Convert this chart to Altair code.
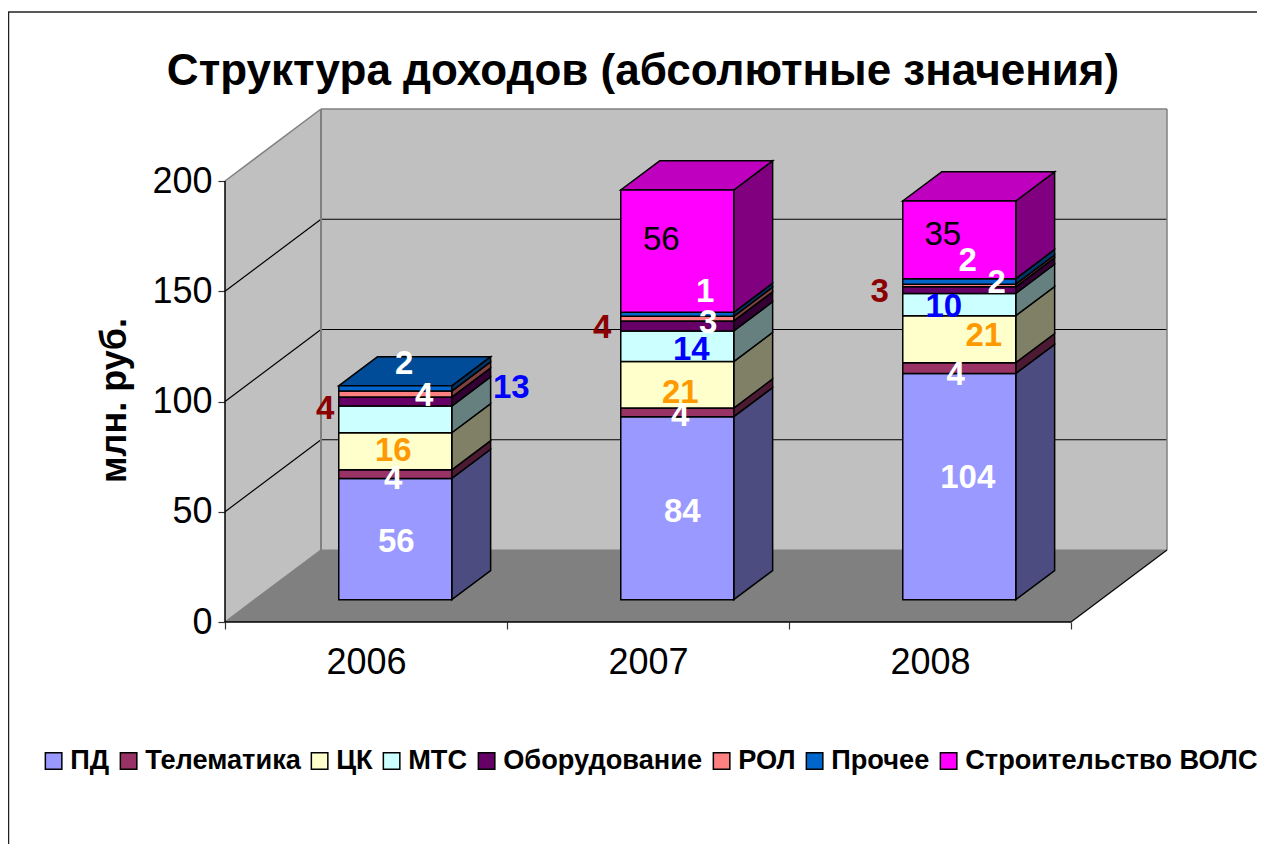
import altair as alt
import pandas as pd

years = ["2006", "2007", "2008"]
series = ["ПД", "Телематика", "ЦК", "МТС", "Оборудование", "РОЛ", "Прочее", "Строительство ВОЛС"]
colors = ["#9999FF", "#993366", "#FFFFCC", "#CCFFFF", "#660066", "#FF8080", "#0066CC", "#FF00FF"]
label_colors = ["#FFFFFF", "#FFFFFF", "#FF9900", "#0000FF", "#FFFFFF", "#8B0000", "#FFFFFF", "#000000"]

# heights (млн. руб.)
v2006 = [55, 3.9, 16.8, 12.1, 4.1, 2.7, 2.4, 0]
v2007 = [83, 3.9, 21.1, 13.9, 4.5, 2.1, 1.8, 55.5]
v2008 = [102.6, 4.9, 21.3, 10.1, 3.0, 1.2, 2.5, 35.2]
# the data labels printed in the picture
l2006 = ["56", "4", "16", "13", "4", "4", "2", ""]
l2007 = ["84", "4", "21", "14", "3", "4", "1", "56"]
l2008 = ["104", "4", "21", "10", "2", "3", "2", "35"]
# how far each label was dragged from the segment's centre
nudge_x = [[1, -2, -2, 116, 29, -70, 9, 0],
           [5, 3, 3, 14, 31, -75, 28, -16],
           [8.5, -3.5, 24.5, -15.5, 37.5, -79.5, 8.5, -16.5]]
nudge_y = [[2, 4, -1, -32, -7, 14, -25, 0],
           [3, 3, 7, 3, -4, 8, -23, -12],
           [-10, 6, -4, 1, -8, 5.5, -21, -6]]
values = [v2006, v2007, v2008]
labels = [l2006, l2007, l2008]

# oblique projection of the 3-D box
PX_X = 282.0          # px per category
PX_Y = 2.205          # px per unit
DEPTH_X = 96 / PX_X   # category units for full depth
DEPTH_Y = 72 / PX_Y   # value units for full depth
XMAX = 3 + DEPTH_X
YMAX = 200 + DEPTH_Y
Z0, Z1 = 0.31, 0.715
GAP = 84 / PX_X
BAR = 113 / PX_X


def shade(hex_color, k):
    rgb = [int(hex_color[i:i + 2], 16) for i in (1, 3, 5)]
    return "#%02X%02X%02X" % tuple(round(c * k) for c in rgb)


fronts, sides, tops, texts = [], [], [], []
for c, vals in enumerate(values):
    x0 = c + GAP
    x1 = x0 + BAR
    base = 0.0
    last = max(i for i, v in enumerate(vals) if v > 0)
    for i, v in enumerate(vals):
        if v <= 0:
            continue
        t = base + v
        fx0, fx1 = x0 + Z0 * DEPTH_X, x1 + Z0 * DEPTH_X
        fronts.append(dict(x=fx0, x2=fx1, y=base + Z0 * DEPTH_Y, y2=t + Z0 * DEPTH_Y, s=series[i]))
        for z in (Z0, Z1):
            sides.append(dict(k=f"{c}-{i}", x=x1 + z * DEPTH_X, y=base + z * DEPTH_Y,
                              y2=t + z * DEPTH_Y, f=shade(colors[i], 0.5)))
        if i == last:
            for z in (Z0, Z1):
                tops.append(dict(k=f"{c}", x=x0 + z * DEPTH_X, x2=x1 + z * DEPTH_X,
                                 y=t + z * DEPTH_Y, f=shade(colors[i], 0.75)))
        texts.append(dict(x=(fx0 + fx1) / 2 + nudge_x[c][i] / PX_X,
                          y=base + v / 2 + Z0 * DEPTH_Y - nudge_y[c][i] / PX_Y,
                          t=labels[c][i], col=label_colors[i], reg=i == 7))
        base = t

X = alt.Scale(domain=[0, XMAX], nice=False, zero=False)
Y = alt.Scale(domain=[0, YMAX], nice=False, zero=False)
YT = "млн. руб."
xe = alt.X("x:Q", scale=X, title=None)
ye = alt.Y("y:Q", scale=Y, title=YT)

left_wall = pd.DataFrame([dict(x=0, y=0, y2=200), dict(x=DEPTH_X, y=DEPTH_Y, y2=YMAX)])
back_wall = pd.DataFrame([dict(x=DEPTH_X, y=DEPTH_Y, y2=YMAX), dict(x=XMAX, y=DEPTH_Y, y2=YMAX)])
floor = pd.DataFrame([dict(x=0, x2=3, y=0), dict(x=DEPTH_X, x2=XMAX, y=DEPTH_Y)])

edges = []
for v in (50, 100, 150):
    edges.append(dict(x=0, x2=DEPTH_X, y=v, y2=v + DEPTH_Y, c="#000000", w=1.2))
    edges.append(dict(x=DEPTH_X, x2=XMAX, y=v + DEPTH_Y, y2=v + DEPTH_Y, c="#000000", w=1.2))
edges += [
    dict(x=0, x2=DEPTH_X, y=200, y2=YMAX, c="#808080", w=1.5),
    dict(x=DEPTH_X, x2=XMAX, y=YMAX, y2=YMAX, c="#808080", w=1.5),
    dict(x=DEPTH_X, x2=DEPTH_X, y=DEPTH_Y, y2=YMAX, c="#808080", w=2),
    dict(x=XMAX, x2=XMAX, y=DEPTH_Y, y2=YMAX, c="#808080", w=1.5),
    dict(x=0, x2=DEPTH_X, y=0, y2=DEPTH_Y, c="#808080", w=1.5),
    dict(x=DEPTH_X, x2=XMAX, y=DEPTH_Y, y2=DEPTH_Y, c="#808080", w=1),
    dict(x=3, x2=XMAX, y=0, y2=DEPTH_Y, c="#000000", w=1.2),
    dict(x=0, x2=3, y=0, y2=0, c="#000000", w=1.5),
    dict(x=0, x2=0, y=0, y2=200, c="#000000", w=1.5),
]

wall_l = alt.Chart(left_wall).mark_area(color="#C0C0C0", orient="vertical").encode(
    x=alt.X("x:Q", scale=X, title=None,
            axis=alt.Axis(values=[0, 0.5, 1, 1.5, 2, 2.5, 3], grid=False, domain=False, tickSize=7,
                          tickColor="#333333", tickWidth=1.2,
                          tickOpacity={"condition": {"test": "datum.value % 1 !== 0", "value": 0}, "value": 1},
                          labelExpr="datum.value % 1 === 0 ? '' : ['" + "','".join(years) + "'][floor(datum.value)]",
                          labelFontSize=36, labelFont="Liberation Sans", labelColor="#000000",
                          labelPadding=16, labelOverlap=False, labelFlush=False)),
    y=alt.Y("y:Q", scale=Y, title=YT,
            axis=alt.Axis(values=[0, 50, 100, 150, 200], grid=False, domain=False, tickSize=7,
                          tickColor="#333333", tickWidth=1.2,
                          labelFontSize=36, labelFont="Liberation Sans", labelColor="#000000",
                          labelPadding=6, labelOverlap=False, labelFlush=False,
                          titleFontSize=36, titleFont="Liberation Sans", titleFontWeight="bold",
                          titleColor="#000000", titleX=-92, titleY=291)),
    y2="y2:Q",
)
wall_b = alt.Chart(back_wall).mark_area(color="#C0C0C0", orient="vertical").encode(xe, ye, y2="y2:Q")
floor_m = alt.Chart(floor).mark_area(color="#808080", orient="horizontal").encode(xe, ye, x2="x2:Q")
edge_m = alt.Chart(pd.DataFrame(edges)).mark_rule().encode(
    xe, ye, x2="x2:Q", y2="y2:Q",
    stroke=alt.Stroke("c:N", scale=None),
    strokeWidth=alt.StrokeWidth("w:Q", scale=None),
)
side_m = alt.Chart(pd.DataFrame(sides)).mark_area(stroke="#000000", strokeWidth=1.5, orient="vertical").encode(
    xe, ye, y2="y2:Q", detail="k:N", fill=alt.Fill("f:N", scale=None))
top_m = alt.Chart(pd.DataFrame(tops)).mark_area(stroke="#000000", strokeWidth=1.5, orient="horizontal").encode(
    xe, ye, x2="x2:Q", detail="k:N", fill=alt.Fill("f:N", scale=None))
front_m = alt.Chart(pd.DataFrame(fronts)).mark_rect(stroke="#000000", strokeWidth=1.5).encode(
    xe, ye, x2="x2:Q", y2="y2:Q",
    fill=alt.Fill("s:N", scale=alt.Scale(domain=series, range=colors),
                  legend=alt.Legend(title=None, orient="none", legendX=-185, legendY=637,
                                    direction="horizontal", columns=8, gridAlign="none",
                                    columnPadding=5, symbolType="square", symbolSize=272,
                                    symbolStrokeColor="#000000", symbolStrokeWidth=1.5,
                                    labelFont="Liberation Sans", labelFontWeight="bold",
                                    labelFontSize=27.2, labelColor="#000000", labelLimit=400,
                                    labelOffset=3, clipHeight=30, symbolOpacity=1)),
)
tdf = pd.DataFrame(texts)
text_b = alt.Chart(tdf[~tdf.reg]).mark_text(font="Liberation Sans", fontWeight="bold", fontSize=33, baseline="middle", dy=1).encode(
    xe, ye, text="t:N", color=alt.Color("col:N", scale=None))
text_r = alt.Chart(tdf[tdf.reg]).mark_text(font="Liberation Sans", fontSize=33, baseline="middle", dy=1).encode(
    xe, ye, text="t:N", color=alt.Color("col:N", scale=None))

frame = pd.DataFrame([dict(a=1)])
top_line = alt.Chart(frame).mark_rule(color="#222222", strokeWidth=1.5).encode(
    x=alt.value(-217), x2=alt.value(1032), y=alt.value(-97))
left_line = alt.Chart(frame).mark_rule(color="#222222", strokeWidth=1.5).encode(
    x=alt.value(-216.5), y=alt.value(-97), y2=alt.value(735))

chart = alt.layer(wall_l, wall_b, floor_m, edge_m, side_m, top_m, front_m, text_b, text_r, top_line, left_line).properties(
    width=942, height=513,
    padding={"left": 217, "top": 101, "right": 90, "bottom": 222},
    autosize=alt.AutoSizeParams(type="none"),
    background="#FFFFFF",
    title=alt.TitleParams("Структура доходов (абсолютные значения)", font="Liberation Sans",
                          fontSize=44, fontWeight="bold", color="#000000", anchor="middle",
                          dx=-53, offset=-83),
).configure_view(stroke=None)

chart.save("out.html", embed_options={"renderer": "svg", "actions": False})
